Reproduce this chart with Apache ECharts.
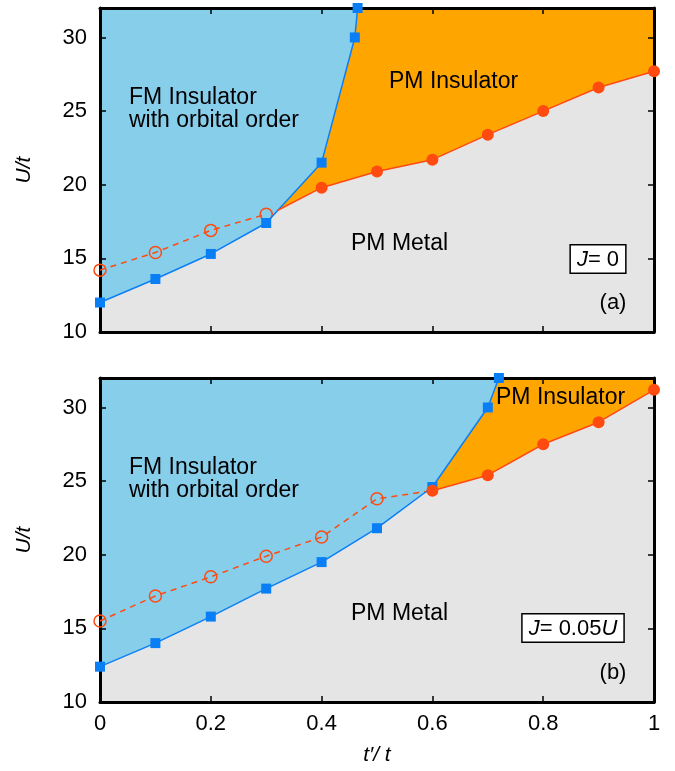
<!DOCTYPE html>
<html>
<head>
<meta charset="utf-8">
<script src="https://cdn.jsdelivr.net/npm/echarts@6/dist/echarts.min.js"></script>
<style>
  html, body { margin: 0; padding: 0; background: #fff; }
  #main { width: 675px; height: 771px; }
</style>
</head>
<body>
<div id="main"></div>
<script>
// panel (a): J = 0
var fmXA = [0, 0.1, 0.2, 0.3, 0.4, 0.46, 0.465];
var fmYA = [12.0, 13.6, 15.3, 17.4, 21.5, 30.0, 32.0];
var openXA = [0, 0.1, 0.2, 0.3];
var openYA = [14.2, 15.4, 16.9, 18.0];
var pmXA = [0.32, 0.4, 0.5, 0.6, 0.7, 0.8, 0.9, 1.0];   // first point = junction, no marker
var pmYA = [18.25, 19.8, 20.9, 21.7, 23.4, 25.0, 26.6, 27.7];

// panel (b): J = 0.05U
var fmXB = [0, 0.1, 0.2, 0.3, 0.4, 0.5, 0.6, 0.7, 0.72];
var fmYB = [12.4, 14.0, 15.8, 17.7, 19.5, 21.8, 24.6, 30.0, 32.0];
var openXB = [0, 0.1, 0.2, 0.3, 0.4, 0.5, 0.6];          // last point joins the PM line, no marker
var openYB = [15.5, 17.2, 18.5, 19.9, 21.2, 23.8, 24.35];
var pmXB = [0.6, 0.7, 0.8, 0.9, 1.0];
var pmYB = [24.35, 25.4, 27.5, 29.0, 31.2];

var xTicks = [0, 0.2, 0.4, 0.6, 0.8, 1];
var yTicks = [10, 15, 20, 25, 30];

var FONT = "'Liberation Sans', Arial, Helvetica, sans-serif";
var FS = 22;
var BLUE = '#0a7ff5', RED = '#ff4a10', SKY = '#87ceeb', ORANGE = '#ffa500', GRAY = '#e5e5e5';

function zip(xs, ys, noMark) {
  return xs.map(function (x, i) {
    var d = { value: [x, ys[i]] };
    if (noMark && noMark.indexOf(i) >= 0) d.symbol = 'none';
    return d;
  });
}

function axesFor(g, showX) {
  function line() { return { show: true, onZero: false, lineStyle: { color: '#000', width: 3 } }; }
  function tick() { return { show: true, inside: true, length: 6, lineStyle: { color: '#000', width: 1.5 } }; }
  var lab = { fontFamily: FONT, fontSize: FS, color: '#000' };
  var xs = [
    { type: 'value', gridIndex: g, position: 'bottom', min: 0, max: 1, interval: 0.2, z: 3,
      axisLine: line(), axisTick: tick(), splitLine: { show: false },
      axisLabel: Object.assign({ show: showX, margin: 11 }, lab) },
    { type: 'value', gridIndex: g, position: 'top', min: 0, max: 1, interval: 0.2, z: 3,
      axisLine: line(), axisTick: tick(), splitLine: { show: false }, axisLabel: { show: false } }
  ];
  var ys = [
    { type: 'value', gridIndex: g, position: 'left', min: 10, max: 32, interval: 5, z: 3,
      axisLine: line(), axisTick: tick(), splitLine: { show: false },
      axisLabel: Object.assign({ margin: 13, showMaxLabel: false,
        formatter: function (v) { return yTicks.indexOf(v) >= 0 ? v : ''; } }, lab) },
    { type: 'value', gridIndex: g, position: 'right', min: 10, max: 32, interval: 5, z: 3,
      axisLine: line(), axisTick: tick(), splitLine: { show: false }, axisLabel: { show: false } }
  ];
  return { x: xs, y: ys };
}

function seriesFor(g, fmX, fmY, openX, openY, openNoMark, pmX, pmY, pmNoMark) {
  var xi = g * 2, yi = g * 2;
  return [
    { type: 'line', xAxisIndex: xi, yAxisIndex: yi, z: 1, symbol: 'none', silent: true,
      data: zip(pmX, pmY), lineStyle: { width: 0 },
      areaStyle: { origin: 'end', color: ORANGE, opacity: 1 } },
    { type: 'line', xAxisIndex: xi, yAxisIndex: yi, z: 1, symbol: 'none', silent: true,
      data: zip(fmX, fmY), lineStyle: { width: 0 },
      areaStyle: { origin: 'end', color: SKY, opacity: 1 } },
    { type: 'line', xAxisIndex: xi, yAxisIndex: yi, z: 4, clip: false,
      data: zip(openX, openY, openNoMark), symbol: 'circle', symbolSize: 12,
      lineStyle: { color: RED, width: 1.5, type: [6, 5] },
      itemStyle: { color: 'rgba(0,0,0,0)', borderColor: RED, borderWidth: 1.5 } },
    { type: 'line', xAxisIndex: xi, yAxisIndex: yi, z: 5, clip: false,
      data: zip(fmX, fmY), symbol: 'rect', symbolSize: 10,
      lineStyle: { color: BLUE, width: 1.5 }, itemStyle: { color: BLUE } },
    { type: 'line', xAxisIndex: xi, yAxisIndex: yi, z: 6, clip: false,
      data: zip(pmX, pmY, pmNoMark), symbol: 'circle', symbolSize: 12,
      lineStyle: { color: RED, width: 1.5 }, itemStyle: { color: RED } }
  ];
}

function txt(x, y, s, extra) {
  return {
    type: 'text', x: x, y: y, z: 20,
    style: Object.assign({ text: s, fontFamily: FONT, fontSize: FS, fill: '#000',
      textAlign: 'left', textVerticalAlign: 'middle' }, extra || {})
  };
}

function boxTxt(x, y, s) {
  return {
    type: 'text', x: x, y: y, z: 20,
    style: {
      text: s, fontFamily: FONT, fontSize: FS, fill: '#000',
      textAlign: 'center', textVerticalAlign: 'middle',
      backgroundColor: '#fff', borderColor: '#000', borderWidth: 1.5, padding: [3, 6, 2, 6],
      rich: { i: { fontStyle: 'italic', fontFamily: FONT, fontSize: FS } }
    }
  };
}

var a = axesFor(0, false), b = axesFor(1, true);
var big = { fontSize: 23 };

var myChart = echarts.init(document.getElementById('main'), null, { renderer: 'canvas' });
myChart.setOption({
  animation: false,
  backgroundColor: '#fff',
  grid: [
    { left: 100, top: 8, width: 554, height: 324, show: true, backgroundColor: GRAY, borderWidth: 0 },
    { left: 100, top: 378, width: 554, height: 324, show: true, backgroundColor: GRAY, borderWidth: 0 }
  ],
  xAxis: a.x.concat(b.x),
  yAxis: a.y.concat(b.y),
  series: seriesFor(0, fmXA, fmYA, openXA, openYA, [], pmXA, pmYA, [0])
    .concat(seriesFor(1, fmXB, fmYB, openXB, openYB, [6], pmXB, pmYB, [])),
  graphic: [
    txt(129, 86, 'FM Insulator\nwith orbital order', { textVerticalAlign: 'top', lineHeight: 23, fontSize: 23 }),
    txt(389, 82, 'PM Insulator', big),
    txt(351, 244, 'PM Metal', big),
    boxTxt(598, 259, '{i|J}= 0'),
    txt(613, 303, '(a)', { textAlign: 'center' }),

    txt(129, 456, 'FM Insulator\nwith orbital order', { textVerticalAlign: 'top', lineHeight: 23, fontSize: 23 }),
    txt(496, 398, 'PM Insulator', big),
    txt(351, 614, 'PM Metal', big),
    boxTxt(573, 628, '{i|J}= 0.05{i|U}'),
    txt(613, 673, '(b)', { textAlign: 'center' }),

    txt(24, 170, 'U/t', { textAlign: 'center', fontStyle: 'italic', fontSize: 21 }),
    txt(24, 540, 'U/t', { textAlign: 'center', fontStyle: 'italic', fontSize: 21 }),
    txt(377, 755, 't\u2032/ t', { textAlign: 'center', fontStyle: 'italic', fontSize: 21 })
  ].map(function (el, i) {
    if (i === 10 || i === 11) el.rotation = Math.PI / 2;
    return el;
  })
});
</script>
</body>
</html>
